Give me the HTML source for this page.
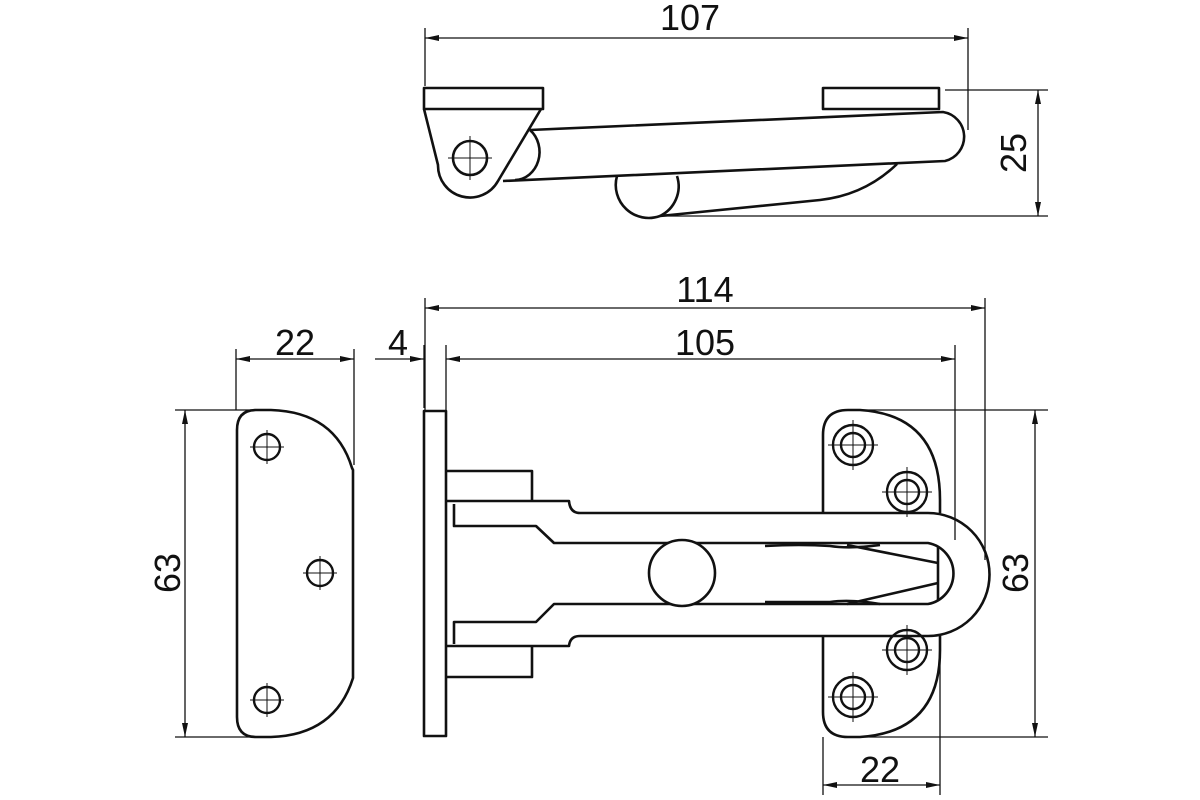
<!DOCTYPE html>
<html><head><meta charset="utf-8"><style>
html,body{margin:0;padding:0;background:#fff;width:1200px;height:800px;overflow:hidden}
svg text{font-family:"Liberation Sans",sans-serif;font-size:36px;fill:#111}
</style></head><body>
<svg width="1200" height="800" viewBox="0 0 1200 800">
<defs>
<marker id="a" markerWidth="14" markerHeight="8" refX="14" refY="4" orient="auto-start-reverse" markerUnits="userSpaceOnUse"><path d="M0,1 L14,4 L0,7 Z" fill="#111"/></marker>
</defs>
<g stroke="#111" stroke-width="1.3" fill="none">
<line x1="425" y1="28" x2="425" y2="86"/><line x1="968" y1="28" x2="968" y2="130"/>
<line x1="425" y1="38" x2="968" y2="38" marker-start="url(#a)" marker-end="url(#a)"/>
<line x1="945" y1="90" x2="1048" y2="90"/><line x1="660" y1="216" x2="1048" y2="216"/>
<line x1="1038" y1="90" x2="1038" y2="216" marker-start="url(#a)" marker-end="url(#a)"/>
<line x1="425" y1="298" x2="425" y2="410"/><line x1="985" y1="298" x2="985" y2="560"/>
<line x1="425" y1="308" x2="985" y2="308" marker-start="url(#a)" marker-end="url(#a)"/>
<line x1="446" y1="345" x2="446" y2="410"/><line x1="955" y1="345" x2="955" y2="540"/>
<line x1="446" y1="359" x2="955" y2="359" marker-start="url(#a)" marker-end="url(#a)"/>
<line x1="375" y1="359" x2="424" y2="359" marker-end="url(#a)"/>
<line x1="424" y1="345" x2="424" y2="408"/>
<line x1="236" y1="349" x2="236" y2="410"/><line x1="354" y1="349" x2="354" y2="465"/>
<line x1="236" y1="359" x2="354" y2="359" marker-start="url(#a)" marker-end="url(#a)"/>
<line x1="175" y1="410" x2="270" y2="410"/><line x1="175" y1="737" x2="270" y2="737"/>
<line x1="185" y1="410" x2="185" y2="737" marker-start="url(#a)" marker-end="url(#a)"/>
<line x1="860" y1="410" x2="1048" y2="410"/><line x1="860" y1="737" x2="1048" y2="737"/>
<line x1="1035" y1="410" x2="1035" y2="737" marker-start="url(#a)" marker-end="url(#a)"/>
<line x1="823" y1="737" x2="823" y2="795"/><line x1="940" y1="640" x2="940" y2="795"/>
<line x1="823" y1="785" x2="940" y2="785" marker-start="url(#a)" marker-end="url(#a)"/>
</g>
<g stroke="#111" stroke-width="2.6" fill="none" stroke-linejoin="round">
<rect x="424" y="88" width="119" height="21"/>
<rect x="823" y="88" width="116" height="21"/>
<path d="M424,109 L438,165 A32,32 0 0 0 498,181 L541,109"/>
<circle cx="470" cy="158" r="17"/>
<path d="M530,130 L943,112 A25,25 0 0 1 945,161 L503,181"/>
<path d="M530,130 A25,28 0 0 1 515,180"/>
<path d="M617,176 A33,33 0 0 0 660,216 L820,200 Q865,195 897,164"/>
<path d="M677,176 A33,33 0 0 1 660,216"/>
<path d="M256,410 L271,410 Q335,412 352,468 L353,470 L353,678 Q335,735 271,737 L256,737 Q237,737 237,717 L237,430 Q237,410 256,410 Z"/>
<rect x="424" y="411" width="22" height="325"/>
<path d="M446,471 L532,471 L532,501"/>
<path d="M446,677 L532,677 L532,646"/>
<path d="M446,501 L569,501 Q570,513 580,513 L928,513 A61,61 0 0 1 928,636 L580,636 Q570,636 569,646 L446,646"/>
<path d="M454,504 L454,526 L536,526 L554,543 L928,543 A31,31 0 0 1 928,604 L554,604 L536,622 L454,622 L454,644"/>
<path d="M938,547 L938,600"/>
<path d="M765,546 Q800,544 830,546 Q850,549 880,545 M847,545 L938,563 M847,604 L938,583 M765,602 L830,602 Q850,599 880,604"/>
<circle cx="682" cy="573" r="33" fill="#fff"/>
<path d="M823,513 L823,435 Q823,410 848,410 L860,410 Q940,415 940,500 L940,513"/>
<path d="M823,636 L823,712 Q823,737 848,737 L860,737 Q940,732 940,650 L940,636"/>
</g>
<g stroke="#111" stroke-width="2.4" fill="none">
<circle cx="267" cy="447" r="13"/><circle cx="320" cy="573" r="13"/><circle cx="267" cy="700" r="13"/>
<circle cx="853" cy="445" r="20"/><circle cx="853" cy="445" r="12"/>
<circle cx="907" cy="492" r="20"/><circle cx="907" cy="492" r="12"/>
<circle cx="907" cy="650" r="20"/><circle cx="907" cy="650" r="12"/>
<circle cx="853" cy="697" r="20"/><circle cx="853" cy="697" r="12"/>
</g>
<g stroke="#111" stroke-width="1">
<path d="M250,447h34M267,430v34M303,573h34M320,556v34M250,700h34M267,683v34"/>
<path d="M828,445h50M853,420v50M882,492h50M907,467v50M882,650h50M907,625v50M828,697h50M853,672v50"/>
<path d="M448,158h44M470,136v44"/>
</g>
<text x="690" y="30" text-anchor="middle">107</text>
<text x="705" y="302" text-anchor="middle">114</text>
<text x="705" y="355" text-anchor="middle">105</text>
<text x="295" y="355" text-anchor="middle">22</text>
<text x="398" y="355" text-anchor="middle">4</text>
<text x="880" y="782" text-anchor="middle">22</text>
<text transform="translate(1026,153) rotate(-90)" text-anchor="middle">25</text>
<text transform="translate(180,573) rotate(-90)" text-anchor="middle">63</text>
<text transform="translate(1028,573) rotate(-90)" text-anchor="middle">63</text>
</svg>
</body></html>
